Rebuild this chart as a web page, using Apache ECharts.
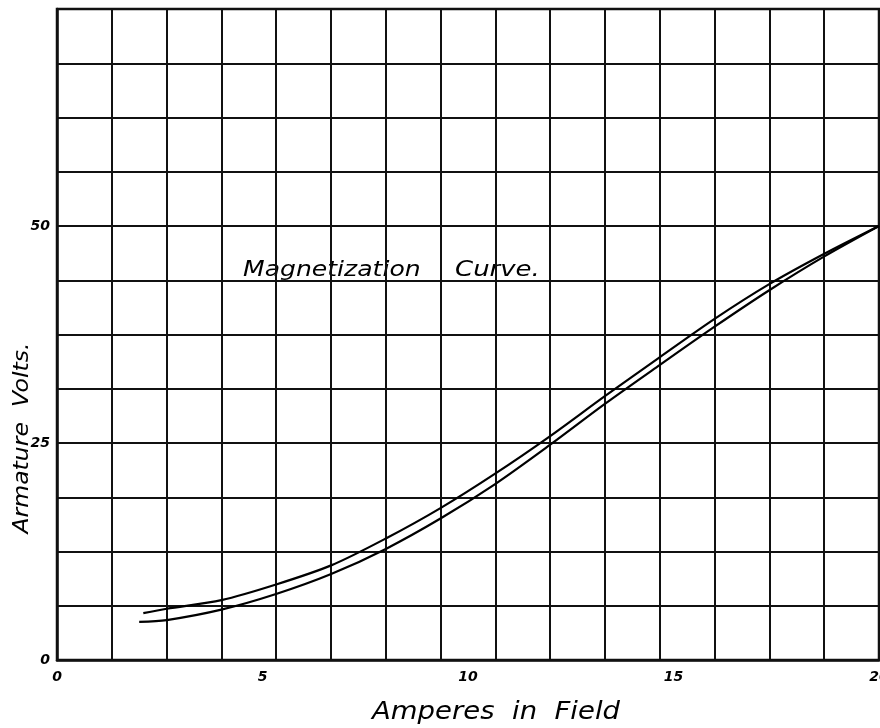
<!DOCTYPE html>
<html>
<head>
<meta charset="utf-8">
<title>Magnetization Curve</title>
<script src="https://cdn.jsdelivr.net/npm/echarts@6/dist/echarts.min.js"></script>
<style>
  html, body { margin: 0; padding: 0; background: #fff; }
  #chart { width: 880px; height: 728px; }
</style>
</head>
<body>
<div id="chart"></div>
<script>
// Field current (amperes) and armature voltage readings
const risingAmps  = [2.1, 2.67, 4, 5.33, 6.67, 8, 9.33, 10.67, 12, 13.33, 14.67, 16, 17.33, 18.67, 20];
const risingVolts = [5.4, 5.9, 6.9, 8.7, 10.9, 14.0, 17.5, 21.5, 25.8, 30.4, 34.9, 39.3, 43.3, 46.8, 50];
const fallingAmps  = [2.0, 2.67, 4, 5.33, 6.67, 8, 9.33, 10.67, 12, 13.33, 14.67, 16, 17.33, 18.67, 20];
const fallingVolts = [4.4, 4.6, 5.8, 7.6, 9.9, 12.8, 16.3, 20.3, 24.8, 29.5, 34.0, 38.4, 42.6, 46.5, 50];

const ampTicks = [0, 5, 10, 15, 20];
const voltTicks = [0, 25, 50];

const ink = '#111';
const handFont = 'DejaVu Sans';

const pairs = (xs, ys) => xs.map((x, i) => [x, ys[i]]);

const chart = echarts.init(document.getElementById('chart'), null, { renderer: 'canvas' });

chart.setOption({
  backgroundColor: '#fff',
  animation: false,
  grid: {
    left: 57, right: 1, top: 9, bottom: 68,
    outerBoundsMode: 'none', containLabel: false,
    show: true, borderColor: ink, borderWidth: 2.5, backgroundColor: 'transparent'
  },
  xAxis: [
    {
      type: 'value', min: 0, max: 20, interval: 4 / 3,
      axisLine: { show: true, lineStyle: { color: ink, width: 2.5 } },
      axisTick: { show: false }, axisLabel: { show: false },
      splitLine: { show: true, lineStyle: { color: ink, width: 2 } }
    },
    {
      type: 'value', min: 0, max: 20, interval: 5, position: 'bottom',
      axisLine: { show: false }, axisTick: { show: false },
      splitLine: { show: false },
      axisLabel: {
        show: true, margin: 10, color: '#000',
        fontFamily: handFont, fontStyle: 'italic', fontWeight: 'bold', fontSize: 14,
        formatter: v => (ampTicks.indexOf(v) >= 0 ? String(v) : '')
      }
    }
  ],
  yAxis: [
    {
      type: 'value', min: 0, max: 75, interval: 6.25,
      axisLine: { show: true, lineStyle: { color: ink, width: 2.5 } },
      axisTick: { show: false }, axisLabel: { show: false },
      splitLine: { show: true, lineStyle: { color: ink, width: 2 } }
    },
    {
      type: 'value', min: 0, max: 75, interval: 25, position: 'left',
      axisLine: { show: false }, axisTick: { show: false },
      splitLine: { show: false },
      axisLabel: {
        show: true, margin: 7, color: '#000',
        fontFamily: handFont, fontStyle: 'italic', fontWeight: 'bold', fontSize: 14,
        formatter: v => (voltTicks.indexOf(v) >= 0 ? String(v) : '')
      }
    }
  ],
  graphic: [
    {
      type: 'text', x: 496, y: 712, scaleX: 1.1,
      style: {
        text: 'Amperes  in  Field', fill: '#000',
        font: 'italic 25px "DejaVu Sans"', align: 'center', verticalAlign: 'middle'
      }
    },
    {
      type: 'text', x: 22, y: 438, rotation: Math.PI / 2, scaleX: 1.07,
      style: {
        text: 'Armature  Volts.', fill: '#000',
        font: 'italic 22px "DejaVu Sans"', align: 'center', verticalAlign: 'middle'
      }
    },
    {
      type: 'text', x: 243, y: 281, scaleX: 1.14,
      style: {
        text: 'Magnetization', fill: '#000',
        font: 'italic 22px "DejaVu Sans"', align: 'left', verticalAlign: 'bottom'
      }
    },
    {
      type: 'text', x: 455, y: 281, scaleX: 1.18,
      style: {
        text: 'Curve.', fill: '#000',
        font: 'italic 22px "DejaVu Sans"', align: 'left', verticalAlign: 'bottom'
      }
    }
  ],
  series: [
    {
      name: 'Rising', type: 'line', xAxisIndex: 0, yAxisIndex: 0,
      data: pairs(risingAmps, risingVolts), smooth: 0.3, showSymbol: false,
      lineStyle: { color: '#000', width: 2.2 }
    },
    {
      name: 'Falling', type: 'line', xAxisIndex: 0, yAxisIndex: 0,
      data: pairs(fallingAmps, fallingVolts), smooth: 0.3, showSymbol: false,
      lineStyle: { color: '#000', width: 2.2 }
    }
  ]
});
</script>
</body>
</html>
